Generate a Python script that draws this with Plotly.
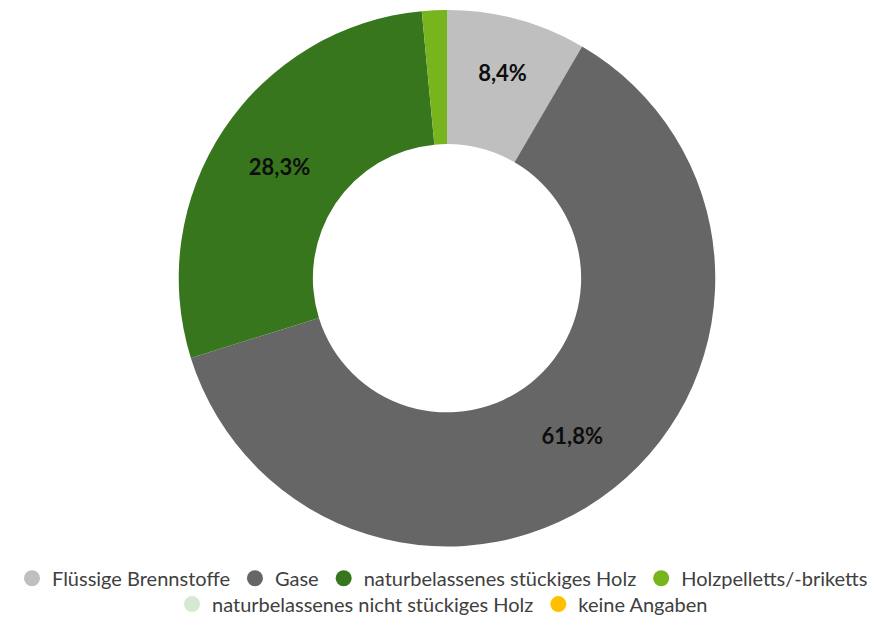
import plotly.graph_objects as go

# Anteile der Brennstoffarten (in %)
categories = [
    "Flüssige Brennstoffe",
    "Gase",
    "naturbelassenes stückiges Holz",
    "Holzpelletts/-briketts",
    "naturbelassenes nicht stückiges Holz",
    "keine Angaben",
]
shares = [8.4, 61.8, 28.3, 1.5, 0.0, 0.0]
slice_labels = ["8,4%", "61,8%", "28,3%", "", "", ""]
colors = ["#BFBFBF", "#666666", "#38761D", "#78B41E", "#D5E8D0", "#FFC000"]

row1 = categories[:4]
row2 = categories[4:]

W, H = 885, 624
cx, cy, r = 447, 280, 270

fig = go.Figure()
fig.add_trace(go.Pie(
    labels=categories,
    values=shares,
    text=slice_labels,
    textinfo="text",
    textposition="inside",
    insidetextorientation="horizontal",
    hole=0.5,
    sort=False,
    direction="clockwise",
    rotation=0,
    marker=dict(colors=colors, line=dict(width=0)),
    textfont=dict(family="Lato", size=22, color="#0d0d0d", weight="bold"),
    showlegend=False,
    domain=dict(x=[(cx - r) / W, (cx + r) / W], y=[1 - (cy + r) / H, 1 - (cy - r) / H]),
))

# Legendeneinträge mit runden Symbolen, in zwei Zeilen
for name, col in zip(categories, colors):
    fig.add_trace(go.Scatter(
        x=[None], y=[None], mode="markers", name=name,
        marker=dict(symbol="circle", size=18, color=col),
        legend="legend" if name in row1 else "legend2",
        hoverinfo="skip",
    ))

legend_font = dict(family="Lato", size=20, color="#404040")
fig.update_layout(
    width=W, height=H,
    margin=dict(l=0, r=0, t=0, b=0),
    paper_bgcolor="white",
    plot_bgcolor="white",
    xaxis=dict(visible=False),
    yaxis=dict(visible=False),
    legend=dict(orientation="h", x=0.5, xanchor="center", y=1 - 582 / H, yanchor="middle",
                font=legend_font, itemclick=False, bgcolor="rgba(0,0,0,0)"),
    legend2=dict(orientation="h", x=0.5, xanchor="center", y=1 - 608 / H, yanchor="middle",
                 font=legend_font, itemclick=False, bgcolor="rgba(0,0,0,0)"),
)

fig.write_html("out.html")
